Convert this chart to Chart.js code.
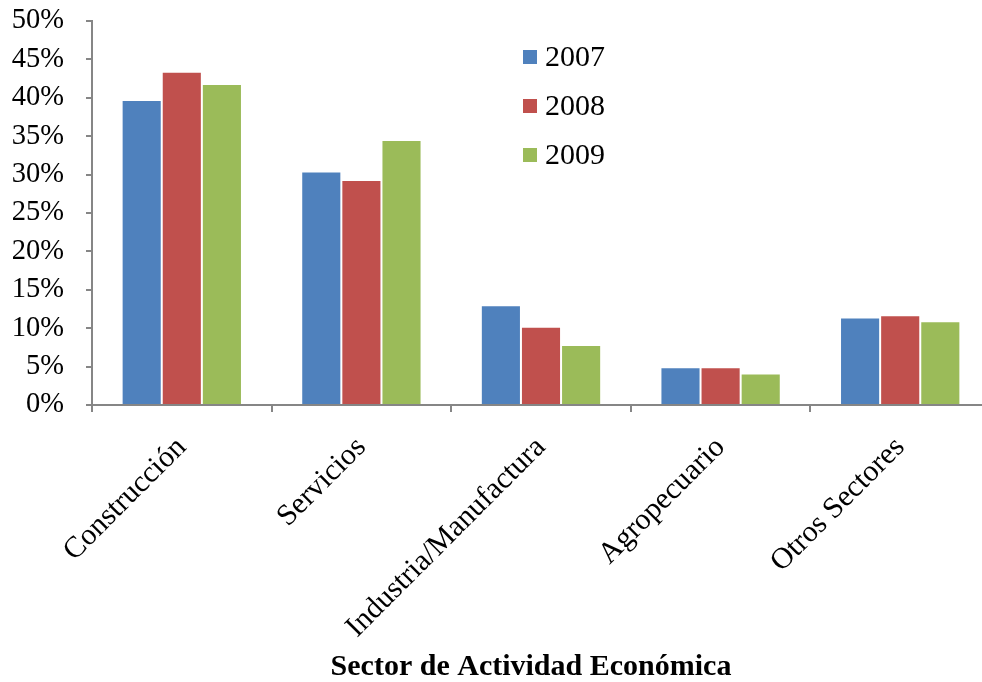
<!DOCTYPE html>
<html>
<head>
<meta charset="utf-8">
<script src="https://cdn.jsdelivr.net/npm/chart.js@4"></script>
<style>
  html, body { margin: 0; padding: 0; background: #fff; overflow: hidden; }
  #wrap { width: 982px; height: 682px; overflow: hidden; }
  #box { width: 1000px; height: 682px; }
</style>
</head>
<body>
<div id="wrap"><div id="box"><canvas id="chart"></canvas></div></div>
<script>
const sectors = ["Construcción", "Servicios", "Industria/Manufactura", "Agropecuario", "Otros Sectores"];
const years = ["2007", "2008", "2009"];
const values2007 = [39.7, 30.4, 13.0, 4.9, 11.4];
const values2008 = [43.4, 29.3, 10.2, 4.9, 11.7];
const values2009 = [41.8, 34.5, 7.8, 4.1, 10.9];
const colors = ["#4F81BD", "#C0504D", "#9BBB59"];
const xTitle = "Sector de Actividad Económica";

const serif = "'Liberation Serif', 'Times New Roman', serif";

// legend inside the plot plus the axis title under the labels
const extras = {
  id: "extras",
  afterDraw(chart) {
    const ctx = chart.ctx;
    ctx.save();
    ctx.font = "30px " + serif;
    ctx.textBaseline = "middle";
    chart.data.datasets.forEach((ds, i) => {
      const y = 57 + i * 49;
      ctx.fillStyle = ds.backgroundColor;
      ctx.fillRect(523, y - 7, 14, 14);
      ctx.fillStyle = "#000";
      ctx.fillText(ds.label, 545, y + 1);
    });
    ctx.font = "bold 30px " + serif;
    ctx.textAlign = "center";
    ctx.fillText(xTitle, 531, 667);
    ctx.restore();
  }
};

new Chart(document.getElementById("chart"), {
  type: "bar",
  data: {
    labels: sectors,
    datasets: [
      { label: years[0], data: values2007, backgroundColor: colors[0] },
      { label: years[1], data: values2008, backgroundColor: colors[1] },
      { label: years[2], data: values2009, backgroundColor: colors[2] }
    ]
  },
  options: {
    responsive: true,
    maintainAspectRatio: false,
    animation: false,
    layout: { padding: { top: 21, right: 10, left: 0, bottom: 0 } },
    datasets: {
      bar: {
        categoryPercentage: 0.67,
        barPercentage: 1,
        borderWidth: 1,
        borderColor: "rgba(255,255,255,0.3)"
      }
    },
    plugins: {
      legend: { display: false },
      tooltip: { enabled: false }
    },
    scales: {
      x: {
        grid: { drawOnChartArea: false, offset: true, tickLength: 7, color: "#868686", lineWidth: 2 },
        border: { color: "#868686", width: 2 },
        ticks: { color: "#000", font: { family: serif, size: 30 }, minRotation: 45, maxRotation: 45, padding: 18 },
        afterFit(scale) { scale.height = 277; }
      },
      y: {
        min: 0,
        max: 50,
        grid: { drawOnChartArea: false, tickLength: 6, color: "#868686", lineWidth: 2 },
        border: { color: "#868686", width: 2 },
        ticks: {
          stepSize: 5,
          color: "#000",
          padding: 22,
          font: { family: serif, size: 28.5 },
          callback: v => v + "%"
        },
        afterFit(scale) {
          scale.width = 92;
          scale.paddingTop = 0;
          scale.paddingBottom = 0;
        }
      }
    }
  },
  plugins: [extras]
});
</script>
</body>
</html>
